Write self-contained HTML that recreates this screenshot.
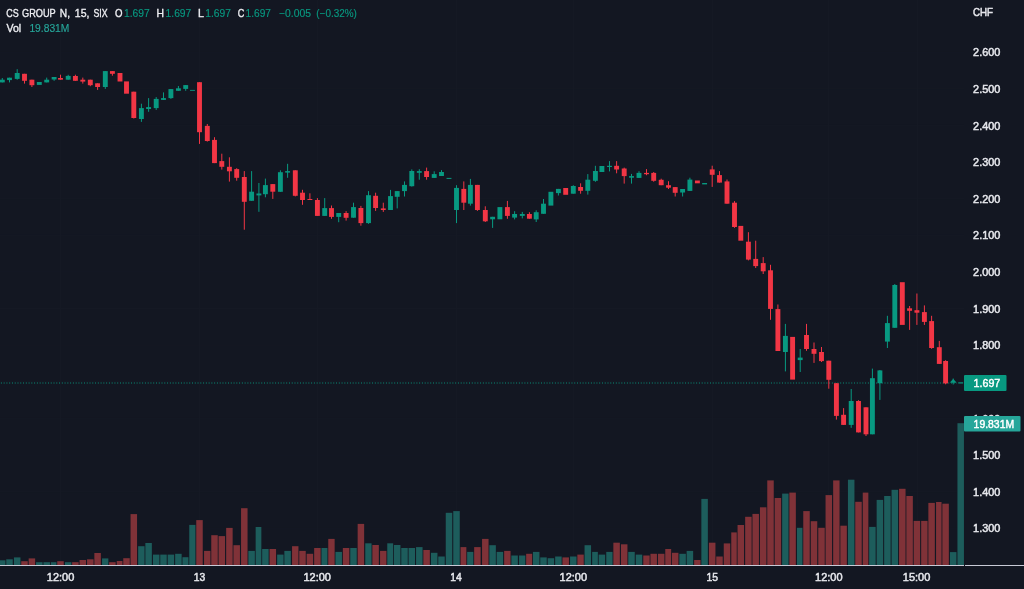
<!DOCTYPE html>
<html lang="en"><head><meta charset="utf-8"><title>CS GROUP N, 15, SIX</title>
<style>html,body{margin:0;padding:0;background:#131722;overflow:hidden}svg{display:block}text{font-family:"Liberation Sans",sans-serif;font-size:11.3px}</style></head><body>
<svg width="1024" height="589" viewBox="0 0 1024 589">
<rect width="1024" height="589" fill="#131722"/>
<g fill="#151924">
<rect x="0" y="51.7" width="964" height="1"/>
<rect x="0" y="88.32" width="964" height="1"/>
<rect x="0" y="124.93" width="964" height="1"/>
<rect x="0" y="161.54" width="964" height="1"/>
<rect x="0" y="198.16" width="964" height="1"/>
<rect x="0" y="234.78" width="964" height="1"/>
<rect x="0" y="271.39" width="964" height="1"/>
<rect x="0" y="308" width="964" height="1"/>
<rect x="0" y="344.62" width="964" height="1"/>
<rect x="0" y="381.24" width="964" height="1"/>
<rect x="0" y="417.85" width="964" height="1"/>
<rect x="0" y="454.47" width="964" height="1"/>
<rect x="0" y="491.08" width="964" height="1"/>
<rect x="0" y="527.7" width="964" height="1"/>
<rect x="60" y="0" width="1" height="565"/>
<rect x="199" y="0" width="1" height="565"/>
<rect x="317" y="0" width="1" height="565"/>
<rect x="456" y="0" width="1" height="565"/>
<rect x="573" y="0" width="1" height="565"/>
<rect x="712" y="0" width="1" height="565"/>
<rect x="828" y="0" width="1" height="565"/>
<rect x="917" y="0" width="1" height="565"/>
</g>
<g>
<rect x="-0.95" y="560.3" width="6.4" height="4.7" fill="#1d5d5c"/>
<rect x="6.25" y="559.3" width="6.5" height="5.7" fill="#1d5d5c"/>
<rect x="13.95" y="557.4" width="6.5" height="7.6" fill="#1d5d5c"/>
<rect x="21.25" y="561.2" width="6.5" height="3.8" fill="#803238"/>
<rect x="28.65" y="558.4" width="6.5" height="6.6" fill="#803238"/>
<rect x="36.05" y="562.2" width="6.5" height="2.8" fill="#1d5d5c"/>
<rect x="43.45" y="562.2" width="6.5" height="2.8" fill="#1d5d5c"/>
<rect x="50.85" y="562.2" width="5.6" height="2.8" fill="#1d5d5c"/>
<rect x="57.25" y="561.2" width="6.5" height="3.8" fill="#803238"/>
<rect x="64.95" y="562.2" width="6.4" height="2.8" fill="#1d5d5c"/>
<rect x="72.15" y="562.2" width="6.5" height="2.8" fill="#803238"/>
<rect x="79.55" y="560" width="6.5" height="5" fill="#803238"/>
<rect x="87.05" y="559.3" width="6.5" height="5.7" fill="#803238"/>
<rect x="94.35" y="553" width="6.5" height="12" fill="#803238"/>
<rect x="102.05" y="558.4" width="6.3" height="6.6" fill="#1d5d5c"/>
<rect x="109.15" y="562.2" width="6.5" height="2.8" fill="#803238"/>
<rect x="116.75" y="561" width="5.7" height="4" fill="#803238"/>
<rect x="123.25" y="558.2" width="6.5" height="6.8" fill="#803238"/>
<rect x="130.55" y="514.1" width="6.5" height="50.9" fill="#803238"/>
<rect x="138.15" y="546.2" width="6.4" height="18.8" fill="#1d5d5c"/>
<rect x="145.35" y="543" width="6.5" height="22" fill="#1d5d5c"/>
<rect x="152.95" y="554.6" width="6.5" height="10.4" fill="#1d5d5c"/>
<rect x="160.25" y="554.6" width="6.5" height="10.4" fill="#1d5d5c"/>
<rect x="167.65" y="554.6" width="6.5" height="10.4" fill="#1d5d5c"/>
<rect x="175.15" y="553.8" width="6.5" height="11.2" fill="#1d5d5c"/>
<rect x="182.45" y="557.2" width="6" height="7.8" fill="#1d5d5c"/>
<rect x="189.25" y="524.9" width="6.2" height="40.1" fill="#1d5d5c"/>
<rect x="196.25" y="520.1" width="6.5" height="44.9" fill="#803238"/>
<rect x="204.05" y="550.9" width="6.4" height="14.1" fill="#803238"/>
<rect x="211.25" y="535.2" width="6.5" height="29.8" fill="#803238"/>
<rect x="218.55" y="536.1" width="6.5" height="28.9" fill="#803238"/>
<rect x="226.15" y="527.9" width="6.5" height="37.1" fill="#803238"/>
<rect x="233.45" y="545.2" width="6.5" height="19.8" fill="#803238"/>
<rect x="241.05" y="508.2" width="6.5" height="56.8" fill="#803238"/>
<rect x="248.35" y="550.9" width="6.5" height="14.1" fill="#1d5d5c"/>
<rect x="255.65" y="527" width="5.7" height="38" fill="#1d5d5c"/>
<rect x="262.15" y="549" width="6.5" height="16" fill="#1d5d5c"/>
<rect x="269.55" y="549" width="6.5" height="16" fill="#803238"/>
<rect x="277.15" y="554.6" width="6.4" height="10.4" fill="#1d5d5c"/>
<rect x="284.35" y="550.9" width="6.5" height="14.1" fill="#1d5d5c"/>
<rect x="292.05" y="546.2" width="6.4" height="18.8" fill="#803238"/>
<rect x="299.25" y="550.9" width="6.5" height="14.1" fill="#803238"/>
<rect x="306.65" y="553.8" width="6.5" height="11.2" fill="#803238"/>
<rect x="314.15" y="548" width="6.5" height="17" fill="#803238"/>
<rect x="321.45" y="548" width="6" height="17" fill="#1d5d5c"/>
<rect x="328.25" y="538.9" width="6.4" height="26.1" fill="#803238"/>
<rect x="335.45" y="551.9" width="6.5" height="13.1" fill="#1d5d5c"/>
<rect x="342.85" y="548" width="6.5" height="17" fill="#803238"/>
<rect x="350.25" y="548" width="6.5" height="17" fill="#1d5d5c"/>
<rect x="357.65" y="523.9" width="6.5" height="41.1" fill="#803238"/>
<rect x="365.25" y="543.3" width="6.3" height="21.7" fill="#1d5d5c"/>
<rect x="372.35" y="545" width="6.5" height="20" fill="#803238"/>
<rect x="380.05" y="550.9" width="6.4" height="14.1" fill="#803238"/>
<rect x="387.25" y="543.3" width="5.9" height="21.7" fill="#1d5d5c"/>
<rect x="393.95" y="545" width="6.5" height="20" fill="#1d5d5c"/>
<rect x="401.25" y="548" width="6.5" height="17" fill="#1d5d5c"/>
<rect x="408.55" y="548" width="6.5" height="17" fill="#1d5d5c"/>
<rect x="416.05" y="547.1" width="6.5" height="17.9" fill="#1d5d5c"/>
<rect x="423.35" y="550" width="6.5" height="15" fill="#803238"/>
<rect x="430.95" y="552.8" width="6.5" height="12.2" fill="#1d5d5c"/>
<rect x="438.25" y="556.5" width="6.5" height="8.5" fill="#1d5d5c"/>
<rect x="445.75" y="512.8" width="6.5" height="52.2" fill="#1d5d5c"/>
<rect x="453.25" y="511.1" width="6.5" height="53.9" fill="#1d5d5c"/>
<rect x="460.55" y="547.1" width="5.8" height="17.9" fill="#803238"/>
<rect x="467.15" y="551.9" width="6.2" height="13.1" fill="#1d5d5c"/>
<rect x="474.15" y="547.1" width="6.5" height="17.9" fill="#803238"/>
<rect x="482.05" y="538.9" width="6.5" height="26.1" fill="#803238"/>
<rect x="489.35" y="545.2" width="6.5" height="19.8" fill="#1d5d5c"/>
<rect x="496.65" y="551.9" width="6.5" height="13.1" fill="#1d5d5c"/>
<rect x="504.15" y="550.9" width="6.4" height="14.1" fill="#803238"/>
<rect x="511.35" y="555.5" width="6.5" height="9.5" fill="#1d5d5c"/>
<rect x="519.05" y="555.5" width="6.3" height="9.5" fill="#1d5d5c"/>
<rect x="526.15" y="553.8" width="6" height="11.2" fill="#803238"/>
<rect x="532.95" y="551.9" width="6.5" height="13.1" fill="#1d5d5c"/>
<rect x="540.25" y="557.4" width="6.5" height="7.6" fill="#1d5d5c"/>
<rect x="547.65" y="558.2" width="6.5" height="6.8" fill="#1d5d5c"/>
<rect x="555.15" y="556.5" width="6.5" height="8.5" fill="#1d5d5c"/>
<rect x="562.45" y="557.4" width="6.5" height="7.6" fill="#803238"/>
<rect x="570.05" y="556.5" width="6.5" height="8.5" fill="#1d5d5c"/>
<rect x="577.35" y="554.6" width="6.4" height="10.4" fill="#803238"/>
<rect x="584.55" y="545.2" width="6.5" height="19.8" fill="#1d5d5c"/>
<rect x="592.15" y="551.9" width="5.7" height="13.1" fill="#1d5d5c"/>
<rect x="598.65" y="554.6" width="6.5" height="10.4" fill="#1d5d5c"/>
<rect x="606.25" y="551.9" width="6.3" height="13.1" fill="#1d5d5c"/>
<rect x="613.35" y="542.7" width="6.5" height="22.3" fill="#803238"/>
<rect x="620.95" y="544.3" width="6.5" height="20.7" fill="#803238"/>
<rect x="628.25" y="551.9" width="6.5" height="13.1" fill="#1d5d5c"/>
<rect x="635.75" y="554.6" width="6.5" height="10.4" fill="#1d5d5c"/>
<rect x="643.25" y="555.5" width="6.4" height="9.5" fill="#803238"/>
<rect x="650.45" y="553.8" width="6.5" height="11.2" fill="#803238"/>
<rect x="657.95" y="553.8" width="6.5" height="11.2" fill="#803238"/>
<rect x="665.25" y="549" width="5.9" height="16" fill="#803238"/>
<rect x="671.95" y="552.8" width="6.5" height="12.2" fill="#803238"/>
<rect x="679.35" y="553.8" width="6.5" height="11.2" fill="#1d5d5c"/>
<rect x="686.65" y="550.9" width="6.5" height="14.1" fill="#1d5d5c"/>
<rect x="694.15" y="560" width="6.4" height="5" fill="#803238"/>
<rect x="701.35" y="498.9" width="6.5" height="66.1" fill="#1d5d5c"/>
<rect x="708.95" y="542.7" width="6.5" height="22.3" fill="#803238"/>
<rect x="716.25" y="556.5" width="6.5" height="8.5" fill="#803238"/>
<rect x="723.75" y="543.4" width="6.5" height="21.6" fill="#803238"/>
<rect x="731.25" y="532.4" width="5.5" height="32.6" fill="#803238"/>
<rect x="737.55" y="525" width="6.5" height="40" fill="#803238"/>
<rect x="745.15" y="516.8" width="6.5" height="48.2" fill="#803238"/>
<rect x="752.45" y="513.9" width="6.5" height="51.1" fill="#803238"/>
<rect x="759.95" y="507.3" width="6.5" height="57.7" fill="#803238"/>
<rect x="767.25" y="480.4" width="6.5" height="84.6" fill="#803238"/>
<rect x="774.65" y="498" width="6.5" height="67" fill="#803238"/>
<rect x="782.15" y="493.6" width="6.4" height="71.4" fill="#1d5d5c"/>
<rect x="789.35" y="492.6" width="6.5" height="72.4" fill="#803238"/>
<rect x="796.95" y="527.8" width="5.5" height="37.2" fill="#1d5d5c"/>
<rect x="803.25" y="511.1" width="6.5" height="53.9" fill="#803238"/>
<rect x="810.75" y="521.2" width="6.5" height="43.8" fill="#803238"/>
<rect x="818.25" y="527.8" width="6.5" height="37.2" fill="#803238"/>
<rect x="825.55" y="495.1" width="6.5" height="69.9" fill="#803238"/>
<rect x="833.15" y="480.4" width="6.4" height="84.6" fill="#803238"/>
<rect x="840.35" y="525.7" width="6.5" height="39.3" fill="#803238"/>
<rect x="847.95" y="479.7" width="6.5" height="85.3" fill="#1d5d5c"/>
<rect x="855.25" y="501.8" width="6.5" height="63.2" fill="#803238"/>
<rect x="862.75" y="492.6" width="5.6" height="72.4" fill="#803238"/>
<rect x="869.15" y="526.9" width="6.5" height="38.1" fill="#1d5d5c"/>
<rect x="876.65" y="499.9" width="6.5" height="65.1" fill="#1d5d5c"/>
<rect x="884.15" y="496" width="6.5" height="69" fill="#1d5d5c"/>
<rect x="891.55" y="489.8" width="6.5" height="75.2" fill="#1d5d5c"/>
<rect x="899.05" y="488.8" width="6.5" height="76.2" fill="#803238"/>
<rect x="906.35" y="496" width="6.5" height="69" fill="#803238"/>
<rect x="913.65" y="520.9" width="6.5" height="44.1" fill="#803238"/>
<rect x="921.15" y="520.9" width="6.4" height="44.1" fill="#803238"/>
<rect x="928.35" y="502.9" width="6.5" height="62.1" fill="#803238"/>
<rect x="936.05" y="502" width="5.5" height="63" fill="#803238"/>
<rect x="942.35" y="503.7" width="6.5" height="61.3" fill="#803238"/>
<rect x="949.95" y="552.1" width="6.5" height="12.9" fill="#1d5d5c"/>
<rect x="957.45" y="423.2" width="6.5" height="141.8" fill="#1d5d5c"/>
</g>
<line x1="0" y1="382.95" x2="957" y2="382.95" stroke="#089981" stroke-width="1.6" stroke-dasharray="1 1.77" stroke-dashoffset="1.9" opacity="0.62"/>
<g>
<rect x="1.8" y="78" width="1" height="4.4" fill="#089981"/>
<rect x="-0.15" y="79.7" width="4.9" height="2.7" fill="#089981"/>
<rect x="9" y="77.7" width="1" height="4.7" fill="#089981"/>
<rect x="7.05" y="77.7" width="4.9" height="2.4" fill="#089981"/>
<rect x="16.7" y="69.2" width="1" height="10.5" fill="#089981"/>
<rect x="14.75" y="73" width="4.9" height="5.9" fill="#089981"/>
<rect x="24" y="73.8" width="1" height="9.8" fill="#f23645"/>
<rect x="22.05" y="73.8" width="4.9" height="7" fill="#f23645"/>
<rect x="31.4" y="79.7" width="1" height="7.3" fill="#f23645"/>
<rect x="29.45" y="79.7" width="4.9" height="5.5" fill="#f23645"/>
<rect x="36.85" y="82" width="4.9" height="2.9" fill="#089981"/>
<rect x="46.2" y="77.6" width="1" height="4.8" fill="#089981"/>
<rect x="44.25" y="79.7" width="4.9" height="2.7" fill="#089981"/>
<rect x="53.6" y="77" width="1" height="3.8" fill="#089981"/>
<rect x="51.65" y="77" width="4.9" height="2.5" fill="#089981"/>
<rect x="60" y="74.7" width="1" height="5" fill="#f23645"/>
<rect x="58.05" y="78" width="4.9" height="1.7" fill="#f23645"/>
<rect x="67.7" y="74.8" width="1" height="4.9" fill="#089981"/>
<rect x="65.75" y="75.9" width="4.9" height="3.8" fill="#089981"/>
<rect x="74.9" y="74.7" width="1" height="6.1" fill="#f23645"/>
<rect x="72.95" y="76" width="4.9" height="4.8" fill="#f23645"/>
<rect x="82.3" y="77.6" width="1" height="6" fill="#f23645"/>
<rect x="80.35" y="79.7" width="4.9" height="1.9" fill="#f23645"/>
<rect x="89.8" y="79.7" width="1" height="6.5" fill="#f23645"/>
<rect x="87.85" y="79.7" width="4.9" height="5.5" fill="#f23645"/>
<rect x="97.1" y="83.3" width="1" height="6.6" fill="#f23645"/>
<rect x="95.15" y="83.3" width="4.9" height="3.7" fill="#f23645"/>
<rect x="104.8" y="71.1" width="1" height="17.8" fill="#089981"/>
<rect x="102.85" y="71.1" width="4.9" height="15.9" fill="#089981"/>
<rect x="111.9" y="71.1" width="1" height="4.6" fill="#f23645"/>
<rect x="109.95" y="71.1" width="4.9" height="2.7" fill="#f23645"/>
<rect x="117.55" y="73" width="4.9" height="8.5" fill="#f23645"/>
<rect x="124.05" y="81.4" width="4.9" height="12.3" fill="#f23645"/>
<rect x="133.3" y="91.7" width="1" height="26.8" fill="#f23645"/>
<rect x="131.35" y="91.7" width="4.9" height="26.3" fill="#f23645"/>
<rect x="140.9" y="103.7" width="1" height="18.2" fill="#089981"/>
<rect x="138.95" y="108.1" width="4.9" height="10.9" fill="#089981"/>
<rect x="148.1" y="98.1" width="1" height="13.7" fill="#089981"/>
<rect x="146.15" y="107.1" width="4.9" height="1.9" fill="#089981"/>
<rect x="155.7" y="97.1" width="1" height="12.8" fill="#089981"/>
<rect x="153.75" y="98.9" width="4.9" height="9.2" fill="#089981"/>
<rect x="163" y="92.4" width="1" height="7.5" fill="#089981"/>
<rect x="161.05" y="98.1" width="4.9" height="1.8" fill="#089981"/>
<rect x="170.4" y="89.1" width="1" height="9.8" fill="#089981"/>
<rect x="168.45" y="89.1" width="4.9" height="9" fill="#089981"/>
<rect x="177.9" y="86" width="1" height="4.8" fill="#089981"/>
<rect x="175.95" y="88.3" width="4.9" height="2.5" fill="#089981"/>
<rect x="185.2" y="85.1" width="1" height="5.7" fill="#089981"/>
<rect x="183.25" y="85.1" width="4.9" height="3.8" fill="#089981"/>
<rect x="190.05" y="89.9" width="4.9" height="0.9" fill="#089981"/>
<rect x="199" y="82.2" width="1" height="61.7" fill="#f23645"/>
<rect x="197.05" y="82.2" width="4.9" height="50" fill="#f23645"/>
<rect x="206.8" y="124" width="1" height="17.6" fill="#f23645"/>
<rect x="204.85" y="125.9" width="4.9" height="15.1" fill="#f23645"/>
<rect x="214" y="137.2" width="1" height="25.9" fill="#f23645"/>
<rect x="212.05" y="139.9" width="4.9" height="23.2" fill="#f23645"/>
<rect x="221.3" y="153.7" width="1" height="15.9" fill="#f23645"/>
<rect x="219.35" y="161.1" width="4.9" height="5.7" fill="#f23645"/>
<rect x="228.9" y="157.3" width="1" height="24.3" fill="#f23645"/>
<rect x="226.95" y="166.8" width="4.9" height="4.5" fill="#f23645"/>
<rect x="236.2" y="168.2" width="1" height="12.5" fill="#f23645"/>
<rect x="234.25" y="169.1" width="4.9" height="8.7" fill="#f23645"/>
<rect x="243.8" y="171.1" width="1" height="58.6" fill="#f23645"/>
<rect x="241.85" y="177" width="4.9" height="24.8" fill="#f23645"/>
<rect x="251.1" y="171.1" width="1" height="29.7" fill="#089981"/>
<rect x="249.15" y="191.7" width="4.9" height="9.1" fill="#089981"/>
<rect x="258.4" y="183" width="1" height="28.8" fill="#089981"/>
<rect x="256.45" y="193.5" width="4.9" height="1.9" fill="#089981"/>
<rect x="264.9" y="178.6" width="1" height="18.7" fill="#089981"/>
<rect x="262.95" y="185.1" width="4.9" height="9.1" fill="#089981"/>
<rect x="272.3" y="184.1" width="1" height="14.8" fill="#f23645"/>
<rect x="270.35" y="184.1" width="4.9" height="7.6" fill="#f23645"/>
<rect x="279.9" y="170.3" width="1" height="21.5" fill="#089981"/>
<rect x="277.95" y="172.2" width="4.9" height="19.6" fill="#089981"/>
<rect x="287.1" y="163.8" width="1" height="14" fill="#089981"/>
<rect x="285.15" y="171.1" width="4.9" height="1.5" fill="#089981"/>
<rect x="294.8" y="170.3" width="1" height="26.1" fill="#f23645"/>
<rect x="292.85" y="170.3" width="4.9" height="25.5" fill="#f23645"/>
<rect x="302" y="189.8" width="1" height="15" fill="#f23645"/>
<rect x="300.05" y="192.7" width="4.9" height="7.3" fill="#f23645"/>
<rect x="309.4" y="193.3" width="1" height="6.7" fill="#f23645"/>
<rect x="307.45" y="199" width="4.9" height="1" fill="#f23645"/>
<rect x="316.9" y="198.1" width="1" height="17.8" fill="#f23645"/>
<rect x="314.95" y="200" width="4.9" height="15.9" fill="#f23645"/>
<rect x="324.2" y="198.1" width="1" height="17.8" fill="#089981"/>
<rect x="322.25" y="208.1" width="4.9" height="7.8" fill="#089981"/>
<rect x="331" y="205.5" width="1" height="13.3" fill="#f23645"/>
<rect x="329.05" y="208.1" width="4.9" height="8.8" fill="#f23645"/>
<rect x="338.2" y="213" width="1" height="9.2" fill="#089981"/>
<rect x="336.25" y="213" width="4.9" height="3.9" fill="#089981"/>
<rect x="345.6" y="211.1" width="1" height="9.5" fill="#f23645"/>
<rect x="343.65" y="213" width="4.9" height="4.8" fill="#f23645"/>
<rect x="353" y="202.7" width="1" height="15" fill="#089981"/>
<rect x="351.05" y="207.1" width="4.9" height="10.6" fill="#089981"/>
<rect x="360.4" y="205.9" width="1" height="19.8" fill="#f23645"/>
<rect x="358.45" y="208" width="4.9" height="15.1" fill="#f23645"/>
<rect x="368" y="191.1" width="1" height="32.7" fill="#089981"/>
<rect x="366.05" y="195.2" width="4.9" height="27.9" fill="#089981"/>
<rect x="375.1" y="192.7" width="1" height="18.2" fill="#f23645"/>
<rect x="373.15" y="195.8" width="4.9" height="12.2" fill="#f23645"/>
<rect x="382.8" y="202.7" width="1" height="9.2" fill="#f23645"/>
<rect x="380.85" y="208.4" width="4.9" height="1.6" fill="#f23645"/>
<rect x="390" y="189.9" width="1" height="20.1" fill="#089981"/>
<rect x="388.05" y="196.1" width="4.9" height="13.9" fill="#089981"/>
<rect x="396.7" y="191.1" width="1" height="17.3" fill="#089981"/>
<rect x="394.75" y="191.1" width="4.9" height="5.7" fill="#089981"/>
<rect x="404" y="181.4" width="1" height="15.1" fill="#089981"/>
<rect x="402.05" y="184.9" width="4.9" height="6.2" fill="#089981"/>
<rect x="411.3" y="169.4" width="1" height="17.2" fill="#089981"/>
<rect x="409.35" y="171" width="4.9" height="15.2" fill="#089981"/>
<rect x="418.8" y="169.2" width="1" height="10.5" fill="#089981"/>
<rect x="416.85" y="171.1" width="4.9" height="1.7" fill="#089981"/>
<rect x="426.1" y="167.6" width="1" height="12.1" fill="#f23645"/>
<rect x="424.15" y="171.1" width="4.9" height="5.9" fill="#f23645"/>
<rect x="433.7" y="171.3" width="1" height="6.6" fill="#089981"/>
<rect x="431.75" y="174.1" width="4.9" height="3.8" fill="#089981"/>
<rect x="441" y="170.1" width="1" height="5.9" fill="#089981"/>
<rect x="439.05" y="172" width="4.9" height="4" fill="#089981"/>
<rect x="446.55" y="177.9" width="4.9" height="1" fill="#089981"/>
<rect x="456" y="185.2" width="1" height="37.9" fill="#089981"/>
<rect x="454.05" y="187.9" width="4.9" height="22.1" fill="#089981"/>
<rect x="463.3" y="181.4" width="1" height="28.6" fill="#f23645"/>
<rect x="461.35" y="188.9" width="4.9" height="13.8" fill="#f23645"/>
<rect x="469.9" y="178.9" width="1" height="26.7" fill="#089981"/>
<rect x="467.95" y="184.9" width="4.9" height="18.8" fill="#089981"/>
<rect x="476.9" y="184.9" width="1" height="26" fill="#f23645"/>
<rect x="474.95" y="184.9" width="4.9" height="25.1" fill="#f23645"/>
<rect x="484.8" y="206.3" width="1" height="15.7" fill="#f23645"/>
<rect x="482.85" y="210" width="4.9" height="11.3" fill="#f23645"/>
<rect x="492.1" y="216.8" width="1" height="11.1" fill="#089981"/>
<rect x="490.15" y="216.8" width="4.9" height="2.5" fill="#089981"/>
<rect x="497.45" y="207.1" width="4.9" height="12.2" fill="#089981"/>
<rect x="506.9" y="200.9" width="1" height="17.9" fill="#f23645"/>
<rect x="504.95" y="207.1" width="4.9" height="8.8" fill="#f23645"/>
<rect x="514.1" y="211.2" width="1" height="8.2" fill="#089981"/>
<rect x="512.15" y="214" width="4.9" height="3.6" fill="#089981"/>
<rect x="521.8" y="211.9" width="1" height="6.5" fill="#089981"/>
<rect x="519.85" y="214" width="4.9" height="1.9" fill="#089981"/>
<rect x="528.9" y="212.2" width="1" height="6.5" fill="#f23645"/>
<rect x="526.95" y="214" width="4.9" height="4.7" fill="#f23645"/>
<rect x="535.7" y="210.3" width="1" height="11.7" fill="#089981"/>
<rect x="533.75" y="212.2" width="4.9" height="7.2" fill="#089981"/>
<rect x="543" y="199" width="1" height="14.8" fill="#089981"/>
<rect x="541.05" y="203.7" width="4.9" height="10.1" fill="#089981"/>
<rect x="548.45" y="191.8" width="4.9" height="13.8" fill="#089981"/>
<rect x="557.9" y="188.9" width="1" height="6.6" fill="#089981"/>
<rect x="555.95" y="188.9" width="4.9" height="4.2" fill="#089981"/>
<rect x="563.25" y="188" width="4.9" height="6.8" fill="#f23645"/>
<rect x="572.8" y="185.2" width="1" height="8.5" fill="#089981"/>
<rect x="570.85" y="186" width="4.9" height="7.7" fill="#089981"/>
<rect x="580.1" y="183.3" width="1" height="10.4" fill="#f23645"/>
<rect x="578.15" y="187" width="4.9" height="3.8" fill="#f23645"/>
<rect x="587.3" y="174.1" width="1" height="20.5" fill="#089981"/>
<rect x="585.35" y="179.7" width="4.9" height="11.1" fill="#089981"/>
<rect x="594.9" y="165.8" width="1" height="16" fill="#089981"/>
<rect x="592.95" y="171" width="4.9" height="9.8" fill="#089981"/>
<rect x="599.45" y="166" width="4.9" height="6" fill="#089981"/>
<rect x="609" y="161.1" width="1" height="10.3" fill="#089981"/>
<rect x="607.05" y="165.8" width="4.9" height="1.2" fill="#089981"/>
<rect x="616.1" y="161.1" width="1" height="12.2" fill="#f23645"/>
<rect x="614.15" y="165.8" width="4.9" height="3.7" fill="#f23645"/>
<rect x="623.7" y="167.6" width="1" height="16" fill="#f23645"/>
<rect x="621.75" y="168.5" width="4.9" height="7.6" fill="#f23645"/>
<rect x="631" y="173.9" width="1" height="9.7" fill="#089981"/>
<rect x="629.05" y="176.1" width="4.9" height="1.6" fill="#089981"/>
<rect x="638.5" y="171.2" width="1" height="6.7" fill="#089981"/>
<rect x="636.55" y="172.9" width="4.9" height="5" fill="#089981"/>
<rect x="646" y="169.1" width="1" height="6.1" fill="#f23645"/>
<rect x="644.05" y="172.9" width="4.9" height="1.3" fill="#f23645"/>
<rect x="653.2" y="172" width="1" height="9.7" fill="#f23645"/>
<rect x="651.25" y="172.9" width="4.9" height="7.9" fill="#f23645"/>
<rect x="660.7" y="178.7" width="1" height="6.5" fill="#f23645"/>
<rect x="658.75" y="179.8" width="4.9" height="5.4" fill="#f23645"/>
<rect x="668" y="181.2" width="1" height="7.8" fill="#f23645"/>
<rect x="666.05" y="185.2" width="4.9" height="2.5" fill="#f23645"/>
<rect x="674.7" y="187.1" width="1" height="9.4" fill="#f23645"/>
<rect x="672.75" y="187.1" width="4.9" height="5.7" fill="#f23645"/>
<rect x="682.1" y="189" width="1" height="7.5" fill="#089981"/>
<rect x="680.15" y="189" width="4.9" height="3.5" fill="#089981"/>
<rect x="689.4" y="177.7" width="1" height="13.2" fill="#089981"/>
<rect x="687.45" y="179.6" width="4.9" height="11.3" fill="#089981"/>
<rect x="694.95" y="180.5" width="4.9" height="2.8" fill="#f23645"/>
<rect x="702.15" y="183" width="4.9" height="1.4" fill="#089981"/>
<rect x="711.7" y="165.7" width="1" height="21.2" fill="#f23645"/>
<rect x="709.75" y="169.4" width="4.9" height="5.4" fill="#f23645"/>
<rect x="719" y="171.1" width="1" height="11.5" fill="#f23645"/>
<rect x="717.05" y="175.1" width="4.9" height="7.5" fill="#f23645"/>
<rect x="726.5" y="179.5" width="1" height="24.2" fill="#f23645"/>
<rect x="724.55" y="181.4" width="4.9" height="22.3" fill="#f23645"/>
<rect x="734" y="201.1" width="1" height="26.7" fill="#f23645"/>
<rect x="732.05" y="202.7" width="4.9" height="24.3" fill="#f23645"/>
<rect x="738.35" y="225.9" width="4.9" height="14.8" fill="#f23645"/>
<rect x="747.9" y="232.2" width="1" height="28.2" fill="#f23645"/>
<rect x="745.95" y="241.7" width="4.9" height="17.9" fill="#f23645"/>
<rect x="755.2" y="240.7" width="1" height="27.3" fill="#f23645"/>
<rect x="753.25" y="258.9" width="4.9" height="7.2" fill="#f23645"/>
<rect x="762.7" y="257.1" width="1" height="16.9" fill="#f23645"/>
<rect x="760.75" y="263.1" width="4.9" height="8.2" fill="#f23645"/>
<rect x="770" y="264.8" width="1" height="55" fill="#f23645"/>
<rect x="768.05" y="270.3" width="4.9" height="38.6" fill="#f23645"/>
<rect x="777.4" y="304.5" width="1" height="46.5" fill="#f23645"/>
<rect x="775.45" y="309.1" width="4.9" height="41.9" fill="#f23645"/>
<rect x="784.9" y="323.9" width="1" height="47.5" fill="#089981"/>
<rect x="782.95" y="335.9" width="4.9" height="16.1" fill="#089981"/>
<rect x="790.15" y="336.9" width="4.9" height="42.7" fill="#f23645"/>
<rect x="799.7" y="349" width="1" height="23" fill="#089981"/>
<rect x="797.75" y="357.6" width="4.9" height="2.5" fill="#089981"/>
<rect x="806" y="323.9" width="1" height="26.9" fill="#f23645"/>
<rect x="804.05" y="335" width="4.9" height="14" fill="#f23645"/>
<rect x="813.5" y="342.5" width="1" height="20.4" fill="#f23645"/>
<rect x="811.55" y="349" width="4.9" height="4.8" fill="#f23645"/>
<rect x="821" y="347" width="1" height="15" fill="#f23645"/>
<rect x="819.05" y="352" width="4.9" height="9.1" fill="#f23645"/>
<rect x="828.3" y="360.7" width="1" height="28" fill="#f23645"/>
<rect x="826.35" y="360.7" width="4.9" height="19.1" fill="#f23645"/>
<rect x="835.9" y="383.2" width="1" height="36.4" fill="#f23645"/>
<rect x="833.95" y="383.2" width="4.9" height="32.7" fill="#f23645"/>
<rect x="843.1" y="408.1" width="1" height="16.8" fill="#f23645"/>
<rect x="841.15" y="414.8" width="4.9" height="10.1" fill="#f23645"/>
<rect x="850.7" y="389" width="1" height="38.8" fill="#089981"/>
<rect x="848.75" y="401" width="4.9" height="23.9" fill="#089981"/>
<rect x="858" y="400.2" width="1" height="32.2" fill="#f23645"/>
<rect x="856.05" y="401" width="4.9" height="31.4" fill="#f23645"/>
<rect x="865.5" y="407.3" width="1" height="28.7" fill="#f23645"/>
<rect x="863.55" y="407.3" width="4.9" height="27" fill="#f23645"/>
<rect x="871.9" y="368.6" width="1" height="65.7" fill="#089981"/>
<rect x="869.95" y="378.2" width="4.9" height="56.1" fill="#089981"/>
<rect x="879.4" y="370" width="1" height="29.9" fill="#089981"/>
<rect x="877.45" y="370.4" width="4.9" height="12.8" fill="#089981"/>
<rect x="886.9" y="315.8" width="1" height="32.2" fill="#089981"/>
<rect x="884.95" y="323.1" width="4.9" height="18.5" fill="#089981"/>
<rect x="894.3" y="284" width="1" height="43.8" fill="#089981"/>
<rect x="892.35" y="285" width="4.9" height="42.8" fill="#089981"/>
<rect x="899.85" y="282.2" width="4.9" height="42.7" fill="#f23645"/>
<rect x="909.1" y="306" width="1" height="23.9" fill="#f23645"/>
<rect x="907.15" y="308.3" width="4.9" height="2.5" fill="#f23645"/>
<rect x="916.4" y="293.5" width="1" height="31.4" fill="#f23645"/>
<rect x="914.45" y="310.2" width="4.9" height="2.5" fill="#f23645"/>
<rect x="923.9" y="305.4" width="1" height="19.5" fill="#f23645"/>
<rect x="921.95" y="312.1" width="4.9" height="9.8" fill="#f23645"/>
<rect x="931.1" y="315.8" width="1" height="33" fill="#f23645"/>
<rect x="929.15" y="321.1" width="4.9" height="26.9" fill="#f23645"/>
<rect x="938.8" y="340.9" width="1" height="23" fill="#f23645"/>
<rect x="936.85" y="347.2" width="4.9" height="16.7" fill="#f23645"/>
<rect x="945.1" y="360.2" width="1" height="24.1" fill="#f23645"/>
<rect x="943.15" y="361" width="4.9" height="22.4" fill="#f23645"/>
<rect x="952.7" y="378.5" width="1" height="6" fill="#089981"/>
<polygon points="953.2,378.9 956.1,382.0 956.1,382.8 950.3,382.8 950.3,382.0" fill="#089981"/>
<rect x="958.25" y="382.3" width="4.9" height="1.2" fill="#089981"/>
</g>
<rect x="0" y="565" width="1024" height="1" fill="#c8cad6"/>
<rect x="964" y="565" width="1" height="1" fill="#131722"/>
<g fill="#e6e7ec" stroke="#e6e7ec" stroke-width="0.5">
<text x="973.1" y="56.4" font-size="11.7" textLength="27.3" lengthAdjust="spacingAndGlyphs">2.600</text>
<text x="973.1" y="93.02" font-size="11.7" textLength="27.3" lengthAdjust="spacingAndGlyphs">2.500</text>
<text x="973.1" y="129.63" font-size="11.7" textLength="27.3" lengthAdjust="spacingAndGlyphs">2.400</text>
<text x="973.1" y="166.25" font-size="11.7" textLength="27.3" lengthAdjust="spacingAndGlyphs">2.300</text>
<text x="973.1" y="202.86" font-size="11.7" textLength="27.3" lengthAdjust="spacingAndGlyphs">2.200</text>
<text x="973.1" y="239.48" font-size="11.7" textLength="27.3" lengthAdjust="spacingAndGlyphs">2.100</text>
<text x="973.1" y="276.09" font-size="11.7" textLength="27.3" lengthAdjust="spacingAndGlyphs">2.000</text>
<text x="973.1" y="312.7" font-size="11.7" textLength="27.3" lengthAdjust="spacingAndGlyphs">1.900</text>
<text x="973.1" y="349.32" font-size="11.7" textLength="27.3" lengthAdjust="spacingAndGlyphs">1.800</text>
<text x="973.1" y="422.55" font-size="11.7" textLength="27.3" lengthAdjust="spacingAndGlyphs">1.600</text>
<text x="973.1" y="459.17" font-size="11.7" textLength="27.3" lengthAdjust="spacingAndGlyphs">1.500</text>
<text x="973.1" y="495.78" font-size="11.7" textLength="27.3" lengthAdjust="spacingAndGlyphs">1.400</text>
<text x="973.1" y="532.39" font-size="11.7" textLength="27.3" lengthAdjust="spacingAndGlyphs">1.300</text>
<text x="973" y="15.8" textLength="20" lengthAdjust="spacingAndGlyphs">CHF</text>
<text x="46.85" y="581.1" textLength="27.5" lengthAdjust="spacingAndGlyphs">12:00</text>
<text x="193.75" y="581.1" textLength="11.5" lengthAdjust="spacingAndGlyphs">13</text>
<text x="303.45" y="581.1" textLength="27.5" lengthAdjust="spacingAndGlyphs">12:00</text>
<text x="450.25" y="581.1" textLength="11.5" lengthAdjust="spacingAndGlyphs">14</text>
<text x="559.55" y="581.1" textLength="27.5" lengthAdjust="spacingAndGlyphs">12:00</text>
<text x="706.45" y="581.1" textLength="11.5" lengthAdjust="spacingAndGlyphs">15</text>
<text x="815.05" y="581.1" textLength="27.5" lengthAdjust="spacingAndGlyphs">12:00</text>
<text x="902.85" y="581.1" textLength="27.5" lengthAdjust="spacingAndGlyphs">15:00</text>
</g>
<rect x="964" y="375" width="42.5" height="16" rx="1" fill="#089981"/>
<text x="973.6" y="387.4" fill="#fff" stroke="#fff" stroke-width="0.45" textLength="26.7" lengthAdjust="spacingAndGlyphs">1.697</text>
<rect x="964" y="416" width="56.5" height="15.5" rx="1" fill="#26a69a"/>
<text x="973.6" y="427.6" fill="#fff" stroke="#fff" stroke-width="0.45" textLength="40.5" lengthAdjust="spacingAndGlyphs">19.831M</text>
<g>
<text y="16.7" fill="#eeeff3" stroke="#eeeff3" stroke-width="0.35"><tspan x="6.3" textLength="12.4" lengthAdjust="spacingAndGlyphs">CS</tspan> <tspan x="22" textLength="33.6" lengthAdjust="spacingAndGlyphs">GROUP</tspan> <tspan x="59.8" textLength="10.2" lengthAdjust="spacingAndGlyphs">N,</tspan> <tspan x="74.8" textLength="14.6" lengthAdjust="spacingAndGlyphs">15,</tspan> <tspan x="93.5" textLength="14.2" lengthAdjust="spacingAndGlyphs">SIX</tspan></text>
<text x="115" y="16.7" fill="#eeeff3" stroke="#eeeff3" stroke-width="0.35" textLength="7.5" lengthAdjust="spacingAndGlyphs">O</text>
<text x="124" y="16.7" fill="#089981" stroke="#089981" stroke-width="0.15" textLength="25.7" lengthAdjust="spacingAndGlyphs">1.697</text>
<text x="156.5" y="16.7" fill="#eeeff3" stroke="#eeeff3" stroke-width="0.35" textLength="7.5" lengthAdjust="spacingAndGlyphs">H</text>
<text x="165.6" y="16.7" fill="#089981" stroke="#089981" stroke-width="0.15" textLength="25.7" lengthAdjust="spacingAndGlyphs">1.697</text>
<text x="198" y="16.7" fill="#eeeff3" stroke="#eeeff3" stroke-width="0.35" textLength="6" lengthAdjust="spacingAndGlyphs">L</text>
<text x="205.3" y="16.7" fill="#089981" stroke="#089981" stroke-width="0.15" textLength="25.7" lengthAdjust="spacingAndGlyphs">1.697</text>
<text x="237.8" y="16.7" fill="#eeeff3" stroke="#eeeff3" stroke-width="0.35" textLength="6.6" lengthAdjust="spacingAndGlyphs">C</text>
<text x="245.6" y="16.7" fill="#089981" stroke="#089981" stroke-width="0.15" textLength="25.4" lengthAdjust="spacingAndGlyphs">1.697</text>
<text x="279" y="16.7" fill="#089981" stroke="#089981" stroke-width="0.15" textLength="32" lengthAdjust="spacingAndGlyphs">−0.005</text>
<text x="316.3" y="16.7" fill="#089981" stroke="#089981" stroke-width="0.15" textLength="40.6" lengthAdjust="spacingAndGlyphs">(−0.32%)</text>
<text x="6.5" y="32.2" fill="#eeeff3" stroke="#eeeff3" stroke-width="0.35" textLength="14.7" lengthAdjust="spacingAndGlyphs">Vol</text>
<text x="29.4" y="32.2" fill="#26a69a" stroke="#26a69a" stroke-width="0.15" textLength="40" lengthAdjust="spacingAndGlyphs">19.831M</text>
</g>
</svg></body></html>
